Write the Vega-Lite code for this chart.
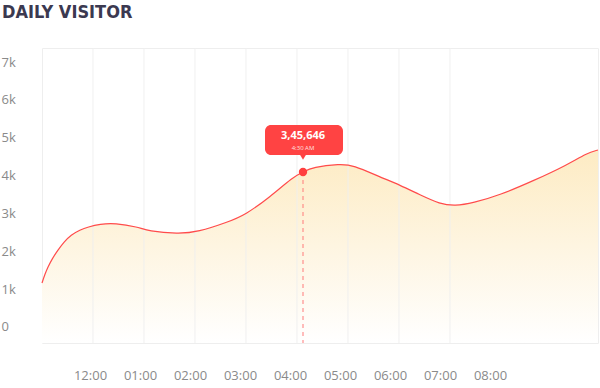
{
  "$schema": "https://vega.github.io/schema/vega-lite/v6.json",
  "width": 556,
  "height": 295,
  "autosize": {"type": "none"},
  "padding": {"left": 42, "top": 48, "right": 2, "bottom": 45},
  "background": "#ffffff",
  "title": {
    "text": "DAILY VISITOR",
    "anchor": "start",
    "frame": "group",
    "dx": -40,
    "offset": 26,
    "font": "DejaVu Sans Condensed, DejaVu Sans, sans-serif",
    "fontWeight": "bold",
    "fontSize": 18,
    "color": "#3b3950"
  },
  "config": {
    "view": {"stroke": "#eeeeee", "strokeWidth": 1},
    "font": "Open Sans"
  },
  "datasets": {
    "visitors": [
      {"h": -0.96, "v": 1162},
      {"h": -0.9, "v": 1400},
      {"h": -0.84, "v": 1585},
      {"h": -0.76, "v": 1796},
      {"h": -0.64, "v": 2034},
      {"h": -0.52, "v": 2245},
      {"h": -0.38, "v": 2430},
      {"h": -0.2, "v": 2562},
      {"h": -0.04, "v": 2642},
      {"h": 0.2, "v": 2720},
      {"h": 0.5, "v": 2747},
      {"h": 0.96, "v": 2642},
      {"h": 1.16, "v": 2536},
      {"h": 1.76, "v": 2457},
      {"h": 2.16, "v": 2509},
      {"h": 2.76, "v": 2774},
      {"h": 3.1, "v": 2958},
      {"h": 3.6, "v": 3434},
      {"h": 4.06, "v": 3962},
      {"h": 4.26, "v": 4094},
      {"h": 4.46, "v": 4226},
      {"h": 5.0, "v": 4306},
      {"h": 5.26, "v": 4279},
      {"h": 5.8, "v": 3962},
      {"h": 6.2, "v": 3751},
      {"h": 6.6, "v": 3487},
      {"h": 7.0, "v": 3249},
      {"h": 7.3, "v": 3196},
      {"h": 7.66, "v": 3275},
      {"h": 8.2, "v": 3487},
      {"h": 8.86, "v": 3857},
      {"h": 9.54, "v": 4279},
      {"h": 9.94, "v": 4596},
      {"h": 10.16, "v": 4676}
    ],
    "grid": [
      {"h": 0.06}, {"h": 1.08}, {"h": 2.1}, {"h": 3.12},
      {"h": 4.14}, {"h": 5.16}, {"h": 6.18}, {"h": 7.2}
    ],
    "highlight": [
      {"h": 4.26, "v": 4094, "low": -423, "box_x": 3.5, "box_x2": 5.06, "box_top": 5336, "box_bottom": 4543, "value_y": 5045, "time_y": 4728, "value": "3,45,646", "time": "4:30 AM"}
    ]
  },
  "layer": [
    {
      "data": {"name": "visitors"},
      "mark": {
        "type": "area",
        "interpolate": "basis",
        "color": {
          "x1": 0, "y1": 0, "x2": 0, "y2": 1,
          "gradient": "linear",
          "stops": [
            {"offset": 0, "color": "#fdebc3"},
            {"offset": 1, "color": "#ffffff"}
          ]
        }
      },
      "encoding": {
        "x": {
          "field": "h", "type": "quantitative",
          "scale": {"domain": [-0.96, 10.16], "nice": false, "zero": false},
          "axis": {
            "values": [0, 1, 2, 3, 4, 5, 6, 7, 8],
            "labelExpr": "datum.value == 0 ? '12:00' : '0' + datum.value + ':00'",
            "title": null,
            "grid": false,
            "domain": false,
            "ticks": false,
            "labelPadding": 26,
            "labelFontSize": 13,
            "labelColor": "#8a8a8a",
            "labelFont": "Open Sans"
          }
        },
        "y": {
          "field": "v", "type": "quantitative",
          "scale": {"domain": [-423, 7370], "nice": false, "zero": false},
          "axis": {
            "values": [0, 1000, 2000, 3000, 4000, 5000, 6000, 7000],
            "labelExpr": "datum.value == 0 ? '0' : (datum.value / 1000) + 'k'",
            "title": null,
            "grid": false,
            "domain": false,
            "ticks": false,
            "labelAlign": "left",
            "labelPadding": 41,
            "labelFontSize": 13,
            "labelColor": "#8a8a8a",
            "labelFont": "Open Sans"
          }
        },
        "y2": {"datum": -423}
      }
    },
    {
      "data": {"name": "grid"},
      "mark": {"type": "rule", "color": "#eeeeee", "strokeWidth": 1, "opacity": 0.9},
      "encoding": {
        "x": {"field": "h", "type": "quantitative"}
      }
    },
    {
      "data": {"name": "visitors"},
      "mark": {"type": "line", "interpolate": "basis", "color": "#ff4b4b", "strokeWidth": 1.2},
      "encoding": {
        "x": {"field": "h", "type": "quantitative"},
        "y": {"field": "v", "type": "quantitative"}
      }
    },
    {
      "data": {"name": "highlight"},
      "mark": {"type": "rule", "color": "#ff7a7a", "strokeDash": [4, 4], "strokeWidth": 1},
      "encoding": {
        "x": {"field": "h", "type": "quantitative"},
        "y": {"field": "v", "type": "quantitative"},
        "y2": {"field": "low"}
      }
    },
    {
      "data": {"name": "highlight"},
      "mark": {"type": "point", "filled": true, "color": "#ff3f3f", "size": 70, "opacity": 1},
      "encoding": {
        "x": {"field": "h", "type": "quantitative"},
        "y": {"field": "v", "type": "quantitative"}
      }
    },
    {
      "data": {"name": "highlight"},
      "mark": {"type": "rect", "color": "#ff4343", "cornerRadius": 6},
      "encoding": {
        "x": {"field": "box_x", "type": "quantitative"},
        "x2": {"field": "box_x2"},
        "y": {"field": "box_top", "type": "quantitative"},
        "y2": {"field": "box_bottom"}
      }
    },
    {
      "data": {"name": "highlight"},
      "mark": {"type": "point", "filled": true, "color": "#ff4343", "size": 64, "opacity": 1, "shape": "M-0.9,-0.3L0.9,-0.3L0,1.2Z"},
      "encoding": {
        "x": {"field": "h", "type": "quantitative"},
        "y": {"field": "box_bottom", "type": "quantitative"}
      }
    },
    {
      "data": {"name": "highlight"},
      "mark": {"type": "text", "color": "#ffffff", "fontSize": 11, "fontWeight": "bold", "font": "Open Sans", "baseline": "middle", "align": "center"},
      "encoding": {
        "x": {"field": "h", "type": "quantitative"},
        "y": {"field": "value_y", "type": "quantitative"},
        "text": {"field": "value"}
      }
    },
    {
      "data": {"name": "highlight"},
      "mark": {"type": "text", "color": "#ffe0e0", "fontSize": 6, "font": "Open Sans", "baseline": "middle", "align": "center"},
      "encoding": {
        "x": {"field": "h", "type": "quantitative"},
        "y": {"field": "time_y", "type": "quantitative"},
        "text": {"field": "time"}
      }
    }
  ]
}
